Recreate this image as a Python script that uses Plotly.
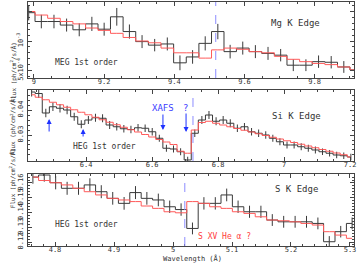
import plotly.graph_objects as go

# ---------------- Panel 1: Mg K edge (MEG 1st order) ----------------
mg_wave = [8.985, 9.021, 9.057, 9.093, 9.129, 9.165, 9.200, 9.236, 9.272, 9.308,
           9.344, 9.380, 9.416, 9.452, 9.488, 9.524, 9.559, 9.595, 9.631, 9.667,
           9.703, 9.739, 9.775, 9.811, 9.847, 9.883, 9.918]
mg_flux = [1.48e-3, 1.33e-3, 1.33e-3, 1.27e-3, 1.19e-3, 1.29e-3, 1.20e-3, 1.41e-3, 1.16e-3, 0.99e-3,
           0.93e-3, 0.95e-3, 0.63e-3, 0.73e-3, 0.96e-3, 1.16e-3, 0.82e-3, 0.88e-3, 0.82e-3, 0.79e-3,
           0.76e-3, 0.59e-3, 0.59e-3, 0.65e-3, 0.64e-3, 0.56e-3, 0.51e-3]
mg_err = [1.3e-4, 1.15e-4, 1.15e-4, 1.1e-4, 1.1e-4, 1.2e-4, 1.1e-4, 1.5e-4, 1.2e-4, 1.1e-4,
          1.05e-4, 1.1e-4, 1.25e-4, 1.15e-4, 1.2e-4, 1.3e-4, 1.15e-4, 1.1e-4, 1.1e-4, 1.1e-4,
          1.05e-4, 1.0e-4, 1.0e-4, 1.05e-4, 1.05e-4, 1.0e-4, 1.0e-4]
mg_model = [1.50e-3, 1.44e-3, 1.385e-3, 1.33e-3, 1.29e-3, 1.22e-3, 1.18e-3, 1.13e-3, 1.06e-3, 1.00e-3,
            0.97e-3, 0.88e-3, 0.80e-3, 0.80e-3, 0.71e-3, 0.85e-3, 0.88e-3, 0.86e-3, 0.82e-3, 0.80e-3,
            0.74e-3, 0.69e-3, 0.65e-3, 0.62e-3, 0.60e-3, 0.56e-3, 0.51e-3]
mg_yticks = [5e-4, 1e-3, 1.5e-3]
mg_yticktext = ["5x10<sup>-4</sup>", "10<sup>-3</sup>", "1.5x10<sup>-3</sup>"]

# ---------------- Panel 2: Si K edge (HEG 1st order) ----------------
si_wave = [6.235, 6.2565, 6.278, 6.2995, 6.321, 6.3425, 6.364, 6.3855, 6.407, 6.4285,
           6.450, 6.4715, 6.493, 6.5145, 6.536, 6.5575, 6.579, 6.6005, 6.622, 6.6435,
           6.665, 6.6865, 6.708, 6.7295, 6.751, 6.7725, 6.794, 6.8155, 6.837, 6.8585,
           6.880, 6.9015, 6.923, 6.9445, 6.966, 6.9875, 7.009, 7.0305, 7.052, 7.0735,
           7.095, 7.1165, 7.138, 7.1595, 7.181, 7.2025]
si_flux = [0.0472, 0.0466, 0.0388, 0.0413, 0.0407, 0.0400, 0.0373, 0.0343, 0.0360, 0.0369,
           0.0367, 0.0340, 0.0333, 0.0325, 0.0322, 0.0329, 0.0327, 0.0313, 0.0287, 0.0247,
           0.0244, 0.0233, 0.0200, 0.0307, 0.0360, 0.0380, 0.0355, 0.0360, 0.0347, 0.0327,
           0.0333, 0.0313, 0.0307, 0.0300, 0.0287, 0.0273, 0.0260, 0.0260, 0.0253, 0.0247,
           0.0240, 0.0233, 0.0227, 0.0220, 0.0217, 0.0212]
si_err = [0.0018, 0.0018, 0.0017, 0.0017, 0.0017, 0.0017, 0.0016, 0.0016, 0.0016, 0.0016,
          0.0016, 0.0016, 0.0015, 0.0015, 0.0015, 0.0015, 0.0015, 0.0015, 0.0014, 0.0014,
          0.0014, 0.0014, 0.0013, 0.0015, 0.0016, 0.0016, 0.0016, 0.0016, 0.0016, 0.0015,
          0.0015, 0.0015, 0.0015, 0.0015, 0.0014, 0.0014, 0.0014, 0.0014, 0.0014, 0.0014,
          0.0014, 0.0013, 0.0013, 0.0013, 0.0013, 0.0013]
si_model = [0.0461, 0.0451, 0.0441, 0.0431, 0.0421, 0.0411, 0.0401, 0.0391, 0.0381, 0.0371,
            0.0361, 0.0351, 0.0341, 0.0331, 0.0321, 0.0312, 0.0302, 0.0292, 0.0282, 0.0272,
            0.0262, 0.0235, 0.0227, 0.0320, 0.0350, 0.0355, 0.0347, 0.0340, 0.0333, 0.0326,
            0.0319, 0.0312, 0.0305, 0.0298, 0.0291, 0.0284, 0.0277, 0.0270, 0.0263, 0.0256,
            0.0249, 0.0242, 0.0235, 0.0228, 0.0221, 0.0212]
si_yticks = [0.03, 0.04]

# ---------------- Panel 3: S K edge (HEG 1st order) ----------------
s_wave = [4.7625, 4.7818, 4.8011, 4.8205, 4.8398, 4.8591, 4.8784, 4.8978, 4.9171, 4.9364,
          4.9557, 4.9751, 4.9944, 5.0137, 5.0330, 5.0524, 5.0717, 5.0910, 5.1103, 5.1297,
          5.1490, 5.1683, 5.1876, 5.2070, 5.2263, 5.2456, 5.2649, 5.2843, 5.3036]
s_flux = [0.1640, 0.1654, 0.1602, 0.1564, 0.1564, 0.1587, 0.1541, 0.1496, 0.1462, 0.1535,
          0.1496, 0.1485, 0.1439, 0.1420, 0.1292, 0.1462, 0.1462, 0.1519, 0.1439, 0.1405,
          0.1405, 0.1349, 0.1337, 0.1337, 0.1337, 0.1326, 0.1202, 0.1270, 0.1326]
s_err = [0.0045, 0.0045, 0.0045, 0.0044, 0.0044, 0.0045, 0.0044, 0.0043, 0.0043, 0.0044,
         0.0043, 0.0043, 0.0042, 0.0042, 0.0040, 0.0042, 0.0042, 0.0043, 0.0042, 0.0041,
         0.0041, 0.0040, 0.0040, 0.0040, 0.0040, 0.0040, 0.0038, 0.0039, 0.0040]
s_model = [0.1640, 0.1617, 0.1602, 0.1587, 0.1564, 0.1541, 0.1519, 0.1496, 0.1485, 0.1474,
           0.1444, 0.1428, 0.1405, 0.1398, 0.1474, 0.1462, 0.1439, 0.1428, 0.1405, 0.1394,
           0.1371, 0.1349, 0.1344, 0.1337, 0.1326, 0.1315, 0.1270, 0.1247, 0.1225]
s_yticks = [0.12, 0.13, 0.14, 0.15, 0.16]

edge_wave = [9.518, 6.724, 5.020]

DATA_COL = "#3a3a3a"
MODEL_COL = "#ff5a5a"
EDGE_COL = "#8c8cff"
ARROW_COL = "#1e32ff"
AX_COL = "#444444"
FONT = "DejaVu Sans Mono"

fig = go.Figure()

panels = [
    (mg_wave, mg_flux, mg_err, mg_model, "x", "y"),
    (si_wave, si_flux, si_err, si_model, "x2", "y2"),
    (s_wave, s_flux, s_err, s_model, "x3", "y3"),
]
for w, f, e, m, xa, ya in panels:
    fig.add_trace(go.Scatter(x=w, y=f, mode="lines", line=dict(color=DATA_COL, width=1, shape="hvh"),
                             error_y=dict(type="data", array=e, width=0, thickness=1, color=DATA_COL),
                             xaxis=xa, yaxis=ya, hoverinfo="skip"))
    fig.add_trace(go.Scatter(x=w, y=m, mode="lines", line=dict(color=MODEL_COL, width=1, shape="hvh"),
                             xaxis=xa, yaxis=ya, hoverinfo="skip"))

common_ax = dict(showline=True, linecolor=AX_COL, linewidth=1, mirror="allticks", ticks="inside",
                 ticklen=4, tickcolor=AX_COL, showgrid=False, zeroline=False, automargin=False,
                 tickfont=dict(family=FONT, size=7, color="#333"))
xax = dict(ticklabelstandoff=-3, **common_ax)
yax = dict(ticklabelstandoff=1, tickangle=-90, **common_ax)

fig.update_layout(
    width=360, height=263,
    margin=dict(l=28, r=6, t=2, b=17),
    plot_bgcolor="white", paper_bgcolor="white",
    showlegend=False,
    font=dict(family=FONT, size=7, color="#333"),
    xaxis=dict(domain=[0, 1], anchor="y", range=[8.983, 9.912], tickvals=[9, 9.2, 9.4, 9.6, 9.8],
               minor=dict(ticks="inside", ticklen=2, dtick=0.05, tickcolor=AX_COL), **xax),
    yaxis=dict(domain=[0.6885, 1], anchor="x", range=[0.373e-3, 1.661e-3], tickvals=mg_yticks,
               ticktext=mg_yticktext,
               minor=dict(ticks="inside", ticklen=2, dtick=1e-4, tickcolor=AX_COL), **yax),
    xaxis2=dict(domain=[0, 1], anchor="y2", range=[6.224, 7.212], tickvals=[6.4, 6.6, 6.8, 7, 7.2],
                minor=dict(ticks="inside", ticklen=2, dtick=0.05, tickcolor=AX_COL), **xax),
    yaxis2=dict(domain=[0.3484, 0.6393], anchor="x2", range=[0.0196, 0.048], tickvals=si_yticks,
                minor=dict(ticks="inside", ticklen=2, dtick=0.002, tickcolor=AX_COL), **yax),
    xaxis3=dict(domain=[0, 1], anchor="y3", range=[4.7542, 5.3068], tickvals=[4.8, 4.9, 5, 5.1, 5.2, 5.3],
                minor=dict(ticks="inside", ticklen=2, dtick=0.02, tickcolor=AX_COL), **xax),
    yaxis3=dict(domain=[0, 0.2951], anchor="x3", range=[0.1173, 0.1661], tickvals=s_yticks,
                minor=dict(ticks="inside", ticklen=2, dtick=0.002, tickcolor=AX_COL), **yax),
)

# edge markers
for i, (xw, xr) in enumerate(zip(edge_wave, ["x", "x2", "x3"])):
    yr = ["y", "y2", "y3"][i] + " domain"
    fig.add_shape(type="line", xref=xr, yref=yr, x0=xw, x1=xw, y0=0, y1=1,
                  line=dict(color=EDGE_COL, width=1, dash="dash"))

ann = []
def txt(x, y, s, xr, yr, size=8, color="#333"):
    ann.append(dict(x=x, y=y, xref=xr, yref=yr, text=s, showarrow=False,
                    font=dict(family=FONT, size=size, color=color)))

txt(9.746, 1.305e-3, "Mg K Edge", "x", "y", size=9)
txt(9.151, 0.644e-3, "MEG 1st order", "x", "y", size=8)
txt(7.039, 0.0376, "Si K Edge", "x2", "y2", size=9)
txt(6.455, 0.0252, "HEG 1st order", "x2", "y2", size=8)
txt(6.633, 0.0408, "XAFS", "x2", "y2", size=9, color="#3c3cff")
txt(6.700, 0.0408, "?", "x2", "y2", size=9, color="#3c3cff")
txt(5.2085, 0.1559, "S K Edge", "x3", "y3", size=9)
txt(4.854, 0.1322, "HEG 1st order", "x3", "y3", size=8)
txt(5.088, 0.1234, "S XV He α ?", "x3", "y3", size=8, color="#ff3c3c")

# arrows in Si panel
for (ax_x, ax_y, dy) in [(6.288, 0.0364, 14), (6.391, 0.0324, 9), (6.633, 0.0320, -17), (6.703, 0.0312, -20)]:
    ann.append(dict(x=ax_x, y=ax_y, xref="x2", yref="y2", ax=0, ay=dy, showarrow=True,
                    arrowhead=2, arrowsize=1, arrowwidth=1, arrowcolor=ARROW_COL, text=""))

# axis titles
for yc in [0.844, 0.494, 0.148]:
    ann.append(dict(x=-0.065, y=yc, xref="paper", yref="paper", text="Flux (ph/cm<sup>2</sup>/s/Å)",
                    textangle=-90, showarrow=False, font=dict(family=FONT, size=6, color="#333")))
ann.append(dict(x=0.505, y=0.0, xref="paper", yref="paper", yanchor="top", yshift=-7, borderpad=0,
                text="Wavelength (Å)", showarrow=False,
                font=dict(family=FONT, size=7, color="#333")))

fig.update_layout(annotations=ann)
fig.write_html("out.html", config={"displayModeBar": False},
               post_script="document.body.style.margin='0';document.body.style.overflow='hidden';")
